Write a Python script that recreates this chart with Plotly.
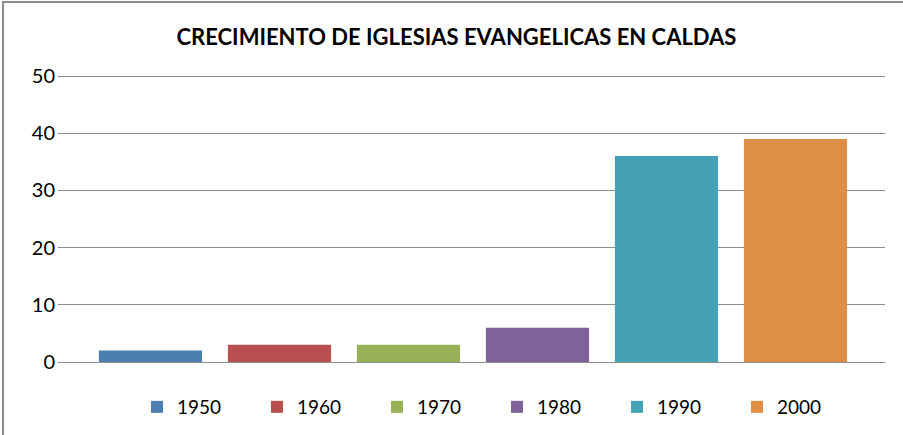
import plotly.graph_objects as go

years = ["1950", "1960", "1970", "1980", "1990", "2000"]
values = [2, 3, 3, 6, 36, 39]
colors = ["#4D7EB0", "#B8504F", "#98B056", "#7F6299", "#44A1B6", "#DF8E48"]
title_text = "CRECIMIENTO DE IGLESIAS EVANGELICAS EN CALDAS"
y_ticks = [0, 10, 20, 30, 40, 50]

W, H = 903, 435
L, R, T, B = 58, 18, 74, 73
pw = W - L - R
ph = H - T - B
y_top = 50 * ph / (ph - 2)  # top tick 2px below plot edge so its gridline is drawn

fig = go.Figure()
for yr, v, c in zip(years, values, colors):
    fig.add_trace(go.Bar(
        x=[yr], y=[v], name=yr, marker=dict(color=c, line=dict(width=0)),
        width=0.8,
    ))

font_family = "Lato, Open Sans, sans-serif"

fig.update_layout(
    width=W, height=H,
    margin=dict(l=L, r=R, t=T, b=B, pad=0, autoexpand=False),
    paper_bgcolor="white", plot_bgcolor="white",
    barmode="overlay",
    font=dict(family=font_family, size=17, color="#000000"),
    title=dict(
        text="<b>" + title_text + "</b>",
        x=456.5 / W, xanchor="center",
        y=1 - 37 / H, yanchor="middle", yref="container",
        font=dict(family=font_family, size=22, color="#000000"),
    ),
    xaxis=dict(
        type="category", categoryorder="array", categoryarray=years,
        range=[-0.717, 5.694], showticklabels=False, showgrid=False,
        zeroline=False, showline=False, ticks="",
    ),
    yaxis=dict(
        range=[0, y_top], tickvals=y_ticks, showgrid=True, gridcolor="#8C8C8C",
        gridwidth=1, zeroline=True, zerolinecolor="#8C8C8C", zerolinewidth=1,
        showline=False, ticks="", ticklabelstandoff=2,
        tickfont=dict(family=font_family, size=20, color="#000000"),
    ),
    showlegend=True,
    legend=dict(
        orientation="h", x=(137 - L) / pw, xanchor="left",
        y=(ph - (407 - T)) / ph, yanchor="middle",
        entrywidth=75, entrywidthmode="pixels",
        font=dict(family=font_family, size=19, color="#000000"),
        traceorder="normal", bgcolor="rgba(0,0,0,0)",
    ),
    shapes=[
        dict(type="line", xref="paper", yref="paper",
             x0=(3 - L) / pw, x1=(W - L) / pw, y0=(ph + T - 2) / ph, y1=(ph + T - 2) / ph,
             line=dict(color="#8C8C8C", width=2)),
        dict(type="line", xref="paper", yref="paper",
             x0=(3 - L) / pw, x1=(3 - L) / pw, y0=(ph + T - 1) / ph, y1=-(B) / ph,
             line=dict(color="#8C8C8C", width=2)),
    ],
)

fig.write_html("out.html", config={"displayModeBar": False},
               post_script="document.body.style.margin='0';")
